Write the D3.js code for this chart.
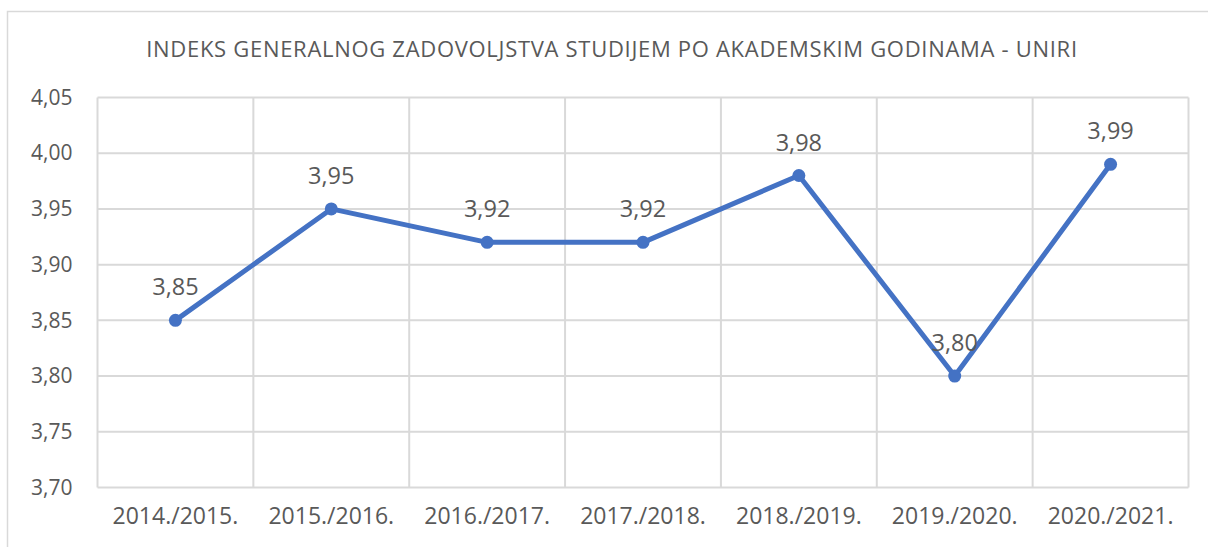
<!DOCTYPE html>
<html>
<head>
<meta charset="utf-8">
<script src="https://cdn.jsdelivr.net/npm/d3@7"></script>
<style>
  body { margin: 0; background: #fff; }
  svg text { font-family: "Open Sans", "Noto Sans", sans-serif; fill: #595959; }
</style>
</head>
<body>
<div id="chart"></div>
<script>
var years = ["2014./2015.", "2015./2016.", "2016./2017.", "2017./2018.", "2018./2019.", "2019./2020.", "2020./2021."];
var values = [3.85, 3.95, 3.92, 3.92, 3.98, 3.80, 3.99];
var yTicks = [3.70, 3.75, 3.80, 3.85, 3.90, 3.95, 4.00, 4.05];
var title = "INDEKS GENERALNOG ZADOVOLJSTVA STUDIJEM PO AKADEMSKIM GODINAMA - UNIRI";

var svgWidth = 1208;
var svgHeight = 547;

var margin = { top: 97.5, right: 19.5, bottom: 59.5, left: 97.5 };
var width = svgWidth - margin.left - margin.right;
var height = svgHeight - margin.top - margin.bottom;

var fmt = function(v) { return d3.format(".2f")(v).replace(".", ","); };

var svg = d3.select("#chart")
  .append("svg")
  .attr("width", svgWidth)
  .attr("height", svgHeight);

// outer chart border (runs off the right and bottom of the picture)
svg.append("rect")
  .attr("x", 7.5)
  .attr("y", 11.5)
  .attr("width", 1220)
  .attr("height", 560)
  .attr("fill", "none")
  .attr("stroke", "#d9d9d9")
  .attr("stroke-width", 1.5);

svg.append("text")
  .attr("x", 612)
  .attr("y", 57)
  .attr("text-anchor", "middle")
  .style("font-size", "22px")
  .style("letter-spacing", "0.7px")
  .text(title);

var chartGroup = svg.append("g")
  .attr("transform", `translate(${margin.left}, ${margin.top})`);

var xScale = d3.scaleBand()
  .domain(years)
  .range([0, width])
  .padding(0);

var yScale = d3.scaleLinear()
  .domain([3.70, 4.05])
  .range([height, 0]);

// horizontal gridlines
chartGroup.selectAll(".hgrid")
  .data(yTicks)
  .enter()
  .append("line")
  .attr("x1", 0)
  .attr("x2", width)
  .attr("y1", d => yScale(d))
  .attr("y2", d => yScale(d))
  .attr("stroke", "#d9d9d9")
  .attr("stroke-width", 2);

// vertical gridlines at category borders
var borders = years.map(d => xScale(d)).concat([width]);
chartGroup.selectAll(".vgrid")
  .data(borders)
  .enter()
  .append("line")
  .attr("x1", d => d)
  .attr("x2", d => d)
  .attr("y1", 0)
  .attr("y2", height)
  .attr("stroke", "#d9d9d9")
  .attr("stroke-width", 2);

// axes
var leftAxis = d3.axisLeft(yScale)
  .tickValues(yTicks)
  .tickFormat(fmt)
  .tickSize(0)
  .tickPadding(25);

var bottomAxis = d3.axisBottom(xScale)
  .tickSize(0)
  .tickPadding(20);

var yAxisG = chartGroup.append("g").call(leftAxis);
var xAxisG = chartGroup.append("g")
  .attr("transform", `translate(0, ${height})`)
  .call(bottomAxis);

yAxisG.select(".domain").remove();
xAxisG.select(".domain").remove();

yAxisG.selectAll("text")
  .attr("fill", "#595959")
  .style("font-size", "21px")
  .style("font-family", "'Open Sans', 'Noto Sans', sans-serif");

xAxisG.selectAll("text")
  .attr("fill", "#595959")
  .style("font-size", "23px")
  .style("font-family", "'Open Sans', 'Noto Sans', sans-serif");

var cx = d => xScale(d.year) + xScale.bandwidth() / 2;
var points = years.map((y, i) => ({ year: y, value: values[i] }));

var line = d3.line()
  .x(cx)
  .y(d => yScale(d.value));

chartGroup.append("path")
  .datum(points)
  .attr("d", line)
  .attr("fill", "none")
  .attr("stroke", "#4472c4")
  .attr("stroke-width", 5)
  .attr("stroke-linejoin", "round");

chartGroup.selectAll(".dot")
  .data(points)
  .enter()
  .append("circle")
  .attr("cx", cx)
  .attr("cy", d => yScale(d.value))
  .attr("r", 6.5)
  .attr("fill", "#4472c4");

chartGroup.selectAll(".label")
  .data(points)
  .enter()
  .append("text")
  .attr("x", cx)
  .attr("y", d => yScale(d.value) - 25)
  .attr("text-anchor", "middle")
  .style("font-size", "23.5px")
  .text(d => fmt(d.value));
</script>
</body>
</html>
